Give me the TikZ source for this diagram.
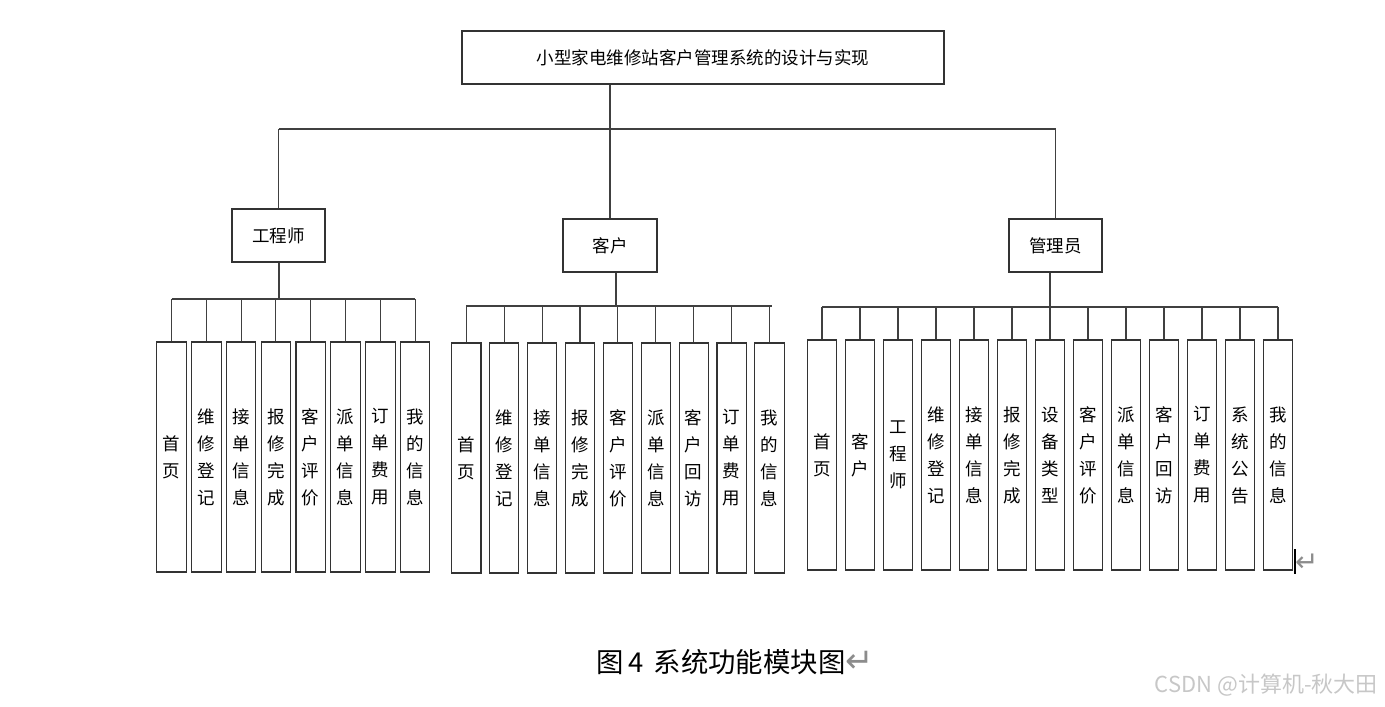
\documentclass[tikz,border=0pt]{standalone}
\usepackage{fontspec}
\newfontfamily\cjk{Noto Sans CJK SC}
\newfontfamily\symfont{DejaVu Sans}

\tikzset{
  box/.style={draw=black!80, line width=1.1pt, inner sep=0pt, font=\cjk\fontsize{17.5}{21}\selectfont},
  midbox/.style={box, minimum width=93pt, minimum height=53pt},
  leaf/.style={box, minimum height=230pt, align=center, font=\cjk\fontsize{17.5}{27}\selectfont},
  wire/.style={draw=black!75, line width=1.1pt},
  retmark/.style={anchor=west, inner sep=0pt, text=black!45}
}

\begin{document}
\begin{tikzpicture}[x=1pt,y=-1pt]
\useasboundingbox (0,0) rectangle (1385,707);
% top and second level
\node[box, minimum width=482pt, minimum height=53pt] (root) at (703,57.5) {小型家电维修站客户管理系统的设计与实现};
\node[midbox] (gcs) at (278.5,235.5) {工程师};
\node[midbox, minimum width=94pt] (kh) at (610,245.5) {客户};
\node[midbox] (gly) at (1055.5,245.5) {管理员};
% leaves
\foreach \t [count=\i] in {{首\\页},{维\\修\\登\\记},{接\\单\\信\\息},{报\\修\\完\\成},{客\\户\\评\\价},{派\\单\\信\\息},{订\\单\\费\\用},{我\\的\\信\\息}}
  \node[leaf, minimum width=29.5pt] (g\i) at ({171.5+34.8*(\i-1)},457) {\t};
\foreach \t [count=\i] in {{首\\页},{维\\修\\登\\记},{接\\单\\信\\息},{报\\修\\完\\成},{客\\户\\评\\价},{派\\单\\信\\息},{客\\户\\回\\访},{订\\单\\费\\用},{我\\的\\信\\息}}
  \node[leaf, minimum width=29.3pt] (k\i) at ({466.3+37.9*(\i-1)},458) {\t};
\foreach \t [count=\i] in {{首\\页},{客\\户},{工\\程\\师},{维\\修\\登\\记},{接\\单\\信\\息},{报\\修\\完\\成},{设\\备\\类\\型},{客\\户\\评\\价},{派\\单\\信\\息},{客\\户\\回\\访},{订\\单\\费\\用},{系\\统\\公\\告},{我\\的\\信\\息}}
  \node[leaf, minimum width=29.7pt] (m\i) at ({822+38*(\i-1)},455) {\t};
% connectors
\coordinate (topbar) at (610,129);
\draw[wire] (root.south -| topbar) -- (topbar);
\draw[wire] (gcs.north |- topbar) -- (gly.north |- topbar);
\foreach \n in {gcs,kh,gly}
  \draw[wire] (\n.north |- topbar) -- (\n.north);
\coordinate (gbar) at (279,299);
\draw[wire] (gbar |- gcs.south) -- (gbar);
\draw[wire] (g1.north |- gbar) -- (g8.north |- gbar);
\foreach \i in {1,...,8}
  \draw[wire] (g\i.north |- gbar) -- (g\i.north);
\coordinate (kbar) at (616,306);
\draw[wire] (kbar |- kh.south) -- (kbar);
\draw[wire] (k1.north |- kbar) -- (772,306);
\foreach \i in {1,...,9}
  \draw[wire] (k\i.north |- kbar) -- (k\i.north);
\coordinate (mbar) at (1050,307);
\draw[wire] (mbar |- gly.south) -- (mbar);
\draw[wire] (m1.north |- mbar) -- (m13.north |- mbar);
\foreach \i in {1,...,13}
  \draw[wire] (m\i.north |- mbar) -- (m\i.north);
% marks, caption and watermark
\draw[line width=2pt] (1294.5,549) -- (1294.5,574);
\node[retmark, font=\symfont\fontsize{28}{30}\selectfont] (boxret) at (1295,563) {↵};
\node[anchor=west, inner sep=0pt, font=\cjk\fontsize{27.4}{30}\selectfont] (cap) at (596,662) {图\hspace{5pt}4\hspace{10pt}系统功能模块图};
\node[retmark, font=\symfont\fontsize{34}{36}\selectfont] (capret) at ([xshift=-1pt]cap.east) {↵};
\node[anchor=east, inner sep=0pt, text=black!22, font=\cjk\fontsize{22}{26}\selectfont] (wm) at (1378,685) {CSDN @计算机-秋大田};
\end{tikzpicture}
\end{document}
